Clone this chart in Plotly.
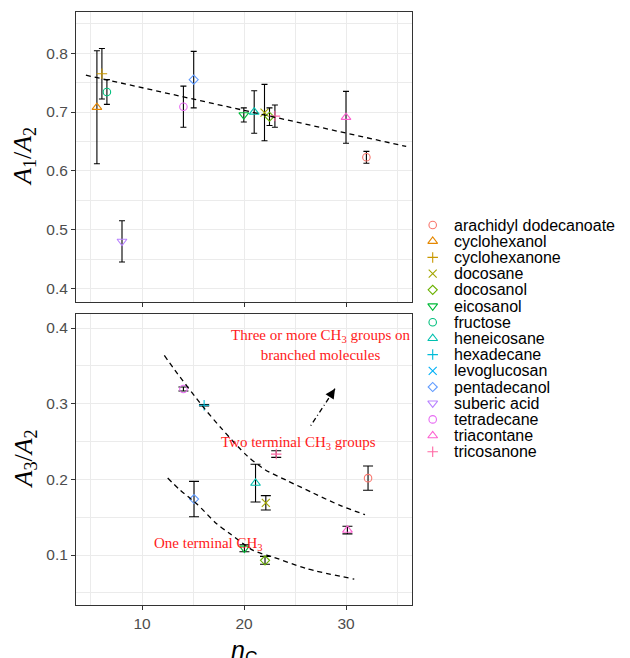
import plotly.graph_objects as go

# ---- compounds, in legend order ----
compounds = ["arachidyl dodecanoate", "cyclohexanol", "cyclohexanone", "docosane",
             "docosanol", "eicosanol", "fructose", "heneicosane", "hexadecane",
             "levoglucosan", "pentadecanol", "suberic acid", "tetradecane",
             "triacontane", "tricosanone"]
colors = ["#F8766D", "#E58700", "#C99800", "#A3A500", "#6BB100", "#00BA38",
          "#00BF7D", "#00C0AF", "#00BCD8", "#00B0F6", "#619CFF", "#B983FF",
          "#E76BF3", "#FD61D1", "#FF67A4"]
shape_cycle = ["circle-open", "triangle-up-open", "cross-thin-open",
               "x-thin-open", "diamond-open", "triangle-down-open"]
shape_size = {"circle-open": 7.5, "triangle-up-open": 8.5, "cross-thin-open": 7.5,
              "x-thin-open": 8, "diamond-open": 7, "triangle-down-open": 8.5}

# ---- A1/A2 vs carbon number ----
a12_nc = [32.0, 5.58, 6.07, 22.01, 22.5, 19.98, 6.56, 21.0, None, None,
          15.07, 8.04, 14.06, 30.0, 23.03]
a12_val = [0.623, 0.708, 0.765, 0.699, 0.692, 0.695, 0.734, 0.700, None, None,
           0.755, 0.480, 0.709, 0.691, 0.693]
a12_err = [0.010, 0.096, 0.043, 0.048, 0.015, 0.012, 0.021, 0.036, None, None,
           0.048, 0.035, 0.035, 0.044, 0.019]

# ---- A3/A2 vs carbon number ----
a32_nc = [32.16, None, None, 22.14, 22.06, 20.04, None, 21.13, 16.09, None,
          15.1, None, 14.06, 30.14, 23.16]
a32_val = [0.2016, None, None, 0.169, 0.093, 0.109, None, 0.195, 0.298, None,
           0.174, None, 0.3194, 0.133, 0.2334]
a32_err = [0.016, None, None, 0.0095, 0.0052, 0.0047, None, 0.025, 0.001, None,
           0.0234, None, 0.0027, 0.005, 0.0044]

# ---- trend guides ----
trend_nc = [4.5, 35.9]
trend_a12 = [0.7626, 0.6414]
two_ch3_nc = [12.19, 13.24, 16.01, 17.81, 20.26, 22.06, 24.19, 26.79, 29.41, 31.86]
two_ch3_a32 = [0.3638, 0.344, 0.2955, 0.267, 0.2317, 0.2128, 0.1986, 0.1819, 0.1656, 0.1533]
one_ch3_nc = [12.52, 13.73, 15.36, 17.32, 18.63, 20.91, 22.87, 26.15, 30.81]
one_ch3_a32 = [0.2017, 0.1859, 0.1678, 0.1414, 0.1282, 0.1061, 0.0973, 0.082, 0.0682]
arrow_nc = [26.54, 28.92]
arrow_a32 = [0.2709, 0.3198]

# ---- annotation labels ----
group_labels = ["Three or more CH<sub>3</sub> groups on<br>branched molecules",
                "Two terminal CH<sub>3</sub> groups",
                "One terminal CH<sub>3</sub>"]
group_nc = [27.5, 25.39, 16.5]
group_a32 = [0.377, 0.248, 0.115]

W, H = 630, 658
ML, MR, MT, MB = 76, 0, 12, 53
PW, PH = W - ML - MR, H - MT - MB
panel_right = 412
top_panel = (12, 302)
bot_panel = (314, 605)


def yfrac(px):
    return (H - MB - px) / PH


def xfrac(px):
    return (px - ML) / PW


fig = go.Figure()

for i, name in enumerate(compounds):
    sym = shape_cycle[i % len(shape_cycle)]
    mk = dict(symbol=sym, size=shape_size[sym], color=colors[i], line=dict(width=1.1, color=colors[i]))
    if a12_nc[i] is not None:
        fig.add_trace(go.Scatter(
            x=[a12_nc[i]], y=[a12_val[i]], mode="markers", marker=mk, name=name,
            showlegend=False, xaxis="x", yaxis="y",
            error_y=dict(type="data", array=[a12_err[i]], color="black", thickness=1.1, width=3)))
    if a32_nc[i] is not None:
        fig.add_trace(go.Scatter(
            x=[a32_nc[i]], y=[a32_val[i]], mode="markers", marker=mk, name=name,
            showlegend=False, xaxis="x2", yaxis="y2",
            error_y=dict(type="data", array=[a32_err[i]], color="black", thickness=1.1, width=5)))

dash_style = dict(color="black", width=1.3, dash="5px,4px")
fig.add_trace(go.Scatter(x=trend_nc, y=trend_a12, mode="lines", line=dash_style,
                         showlegend=False, hoverinfo="skip", xaxis="x", yaxis="y"))
fig.add_trace(go.Scatter(x=two_ch3_nc, y=two_ch3_a32, mode="lines",
                         line=dict(shape="spline", smoothing=0.8, **dash_style),
                         showlegend=False, hoverinfo="skip", xaxis="x2", yaxis="y2"))
fig.add_trace(go.Scatter(x=one_ch3_nc, y=one_ch3_a32, mode="lines",
                         line=dict(shape="spline", smoothing=0.8, **dash_style),
                         showlegend=False, hoverinfo="skip", xaxis="x2", yaxis="y2"))
fig.add_trace(go.Scatter(x=arrow_nc, y=arrow_a32, mode="lines",
                         line=dict(color="black", width=1.3, dash="1px,3px,5px,3px"),
                         showlegend=False, hoverinfo="skip", xaxis="x2", yaxis="y2"))

# key panel: pixel-aligned helper axes on the right
key_x0, key_x1 = 420, W
key_sym_x, key_txt_x = 432.7, 452.0
key_row0, key_step = 225.0, 16.2
key_rows = [key_row0 + i * key_step for i in range(len(compounds))]
for i, name in enumerate(compounds):
    sym = shape_cycle[i % len(shape_cycle)]
    fig.add_trace(go.Scatter(
        x=[key_sym_x], y=[key_rows[i]], mode="markers", showlegend=False, hoverinfo="skip",
        marker=dict(symbol=sym, size=shape_size[sym], color=colors[i],
                    line=dict(width=1.1, color=colors[i])),
        xaxis="x3", yaxis="y3"))
    fig.add_annotation(x=key_txt_x, y=key_rows[i], xref="x3", yref="y3", text=name,
                       showarrow=False, xanchor="left", yanchor="middle",
                       font=dict(family="Liberation Sans", size=16, color="black"))

# arrow head
fig.add_annotation(x=arrow_nc[1], y=arrow_a32[1], xref="x2", yref="y2",
                   ax=-4.4, ay=6.7, showarrow=True, arrowhead=2, arrowsize=1.5,
                   arrowwidth=1.3, arrowcolor="black", text="")

for lab, xv, yv in zip(group_labels, group_nc, group_a32):
    fig.add_annotation(x=xv, y=yv, xref="x2", yref="y2", text=lab, showarrow=False,
                       xanchor="center", yanchor="middle", align="center",
                       font=dict(family="Liberation Serif", size=15, color="#FF1A1A"))

# axis titles
title_font = dict(family="Liberation Serif", size=26, color="black")
fig.add_annotation(x=xfrac(24), y=yfrac(sum(top_panel) / 2), xref="paper", yref="paper",
                   text="<i>A</i><sub>1</sub>/<i>A</i><sub>2</sub>", textangle=-90,
                   showarrow=False, xanchor="center", yanchor="middle", font=title_font)
fig.add_annotation(x=xfrac(24), y=yfrac(sum(bot_panel) / 2), xref="paper", yref="paper",
                   text="<i>A</i><sub>3</sub>/<i>A</i><sub>2</sub>", textangle=-90,
                   showarrow=False, xanchor="center", yanchor="middle", font=title_font)
fig.add_annotation(x=xfrac(244), y=yfrac(634), xref="paper", yref="paper",
                   text="<i>n</i><sub>C</sub>", showarrow=False, xanchor="center", yanchor="top",
                   font=dict(family="Liberation Sans", size=25, color="black"))

tick_font = dict(family="Liberation Sans", size=15.5, color="#4D4D4D")
grid = dict(showgrid=True, gridcolor="#EBEBEB", gridwidth=1.2, zeroline=False,
            showline=True, mirror=True, linecolor="#333333", linewidth=1.1,
            ticks="outside", ticklen=4, tickwidth=1, tickcolor="#333333", tickfont=tick_font)
minor_grid = dict(showgrid=True, gridcolor="#EBEBEB", gridwidth=0.6)

x_dom = [0, xfrac(panel_right)]
fig.update_layout(
    width=W, height=H, margin=dict(l=ML, r=MR, t=MT, b=MB),
    paper_bgcolor="white", plot_bgcolor="white", showlegend=False,
    xaxis=dict(domain=x_dom, range=[3.53, 36.47], dtick=10, tick0=0, showticklabels=False,
               minor=dict(dtick=5, tick0=0, **minor_grid), anchor="y", **grid),
    yaxis=dict(domain=[yfrac(top_panel[1]), yfrac(top_panel[0])], range=[0.377, 0.870],
               dtick=0.1, tick0=0, tickformat=".1f",
               minor=dict(dtick=0.05, tick0=0, **minor_grid), anchor="x", **grid),
    xaxis2=dict(domain=x_dom, range=[3.53, 36.47], dtick=10, tick0=0, matches="x",
                minor=dict(dtick=5, tick0=0, **minor_grid), anchor="y2", **grid),
    yaxis2=dict(domain=[yfrac(bot_panel[1]), yfrac(bot_panel[0])], range=[0.034, 0.4185],
                dtick=0.1, tick0=0, tickformat=".1f",
                minor=dict(dtick=0.05, tick0=0, **minor_grid), anchor="x2", **grid),
    xaxis3=dict(domain=[xfrac(key_x0), 1], range=[key_x0, key_x1], visible=False,
                fixedrange=True, anchor="y3"),
    yaxis3=dict(domain=[0, 1], range=[H - MB, MT], visible=False, fixedrange=True,
                anchor="x3"),
)

fig.write_html("out.html")
